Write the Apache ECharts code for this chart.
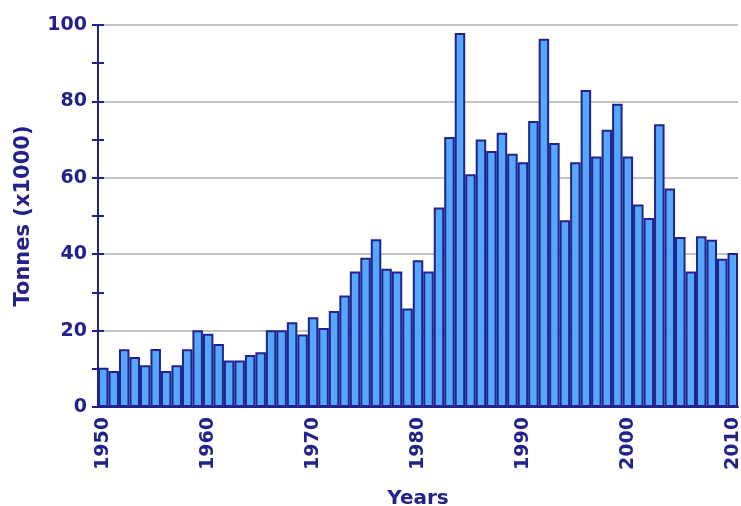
<!DOCTYPE html>
<html>
<head>
<meta charset="utf-8">
<script src="https://cdn.jsdelivr.net/npm/echarts@6/dist/echarts.min.js"></script>
<style>
  html, body { margin: 0; padding: 0; background: #fff; }
  #main { width: 741px; height: 506px; }
</style>
</head>
<body>
<div id="main"></div>
<script>
// data
const firstYear = 1950;
const lastYear = 2010;
const years = [];
for (let y = firstYear; y <= lastYear; y++) years.push(String(y));

const tonnes = [
  10.3, 9.4, 15.1, 13.1, 10.9, 15.2, 9.4, 10.9, 15.1, 20.1,   // 1950-59
  19.2, 16.5, 12.2, 12.2, 13.6, 14.3, 20.1, 20.1, 22.2, 19.0, // 1960-69
  23.5, 20.7, 25.1, 29.2, 35.5, 39.1, 43.9, 36.2, 35.5, 25.8, // 1970-79
  38.4, 35.5, 52.2, 70.7, 97.9, 60.9, 70.0, 67.0, 71.8, 66.3, // 1980-89
  64.1, 74.9, 96.4, 69.1, 48.9, 64.1, 83.0, 65.6, 72.6, 79.4, // 1990-99
  65.6, 53.0, 49.5, 74.0, 57.2, 44.5, 35.5, 44.7, 43.8, 38.8, // 2000-09
  40.3                                                        // 2010
];

const yMin = 0;
const yMax = 100;

const navy = '#22228a';
const fontFamily = '"DejaVu Sans", Verdana, sans-serif';

var chartDom = document.getElementById('main');
var myChart = echarts.init(chartDom);

var option = {
  animation: false,
  backgroundColor: '#ffffff',
  grid: {
    left: 98,
    right: 3,
    top: 25,
    bottom: 99,
    outerBoundsMode: 'none',
    containLabel: false
  },
  xAxis: {
    type: 'category',
    data: years,
    boundaryGap: true,
    name: 'Years',
    nameLocation: 'middle',
    nameGap: 82,
    nameTextStyle: { color: navy, fontSize: 20, fontWeight: 'bold', fontFamily: fontFamily },
    axisLine: { lineStyle: { color: navy, width: 2 } },
    axisTick: {
      alignWithLabel: true,
      interval: function (i) { return i % 5 === 0; },
      length: 8,
      lineStyle: { color: navy, width: 2 }
    },
    axisLabel: {
      interval: function (i) { return i % 10 === 0; },
      rotate: 90,
      margin: 10,
      color: navy,
      fontSize: 19,
      fontWeight: 'bold',
      fontFamily: fontFamily
    },
    splitLine: { show: false }
  },
  yAxis: [
    {
      // main axis with labels and outer ticks
      type: 'value',
      min: yMin,
      max: yMax,
      interval: 10,
      position: 'left',
      name: 'Tonnes (x1000)',
      nameLocation: 'middle',
      nameGap: 64,
      nameRotate: 90,
      nameTextStyle: { color: navy, fontSize: 21, fontWeight: 'bold', fontFamily: fontFamily },
      axisLine: { show: true, lineStyle: { color: navy, width: 2 } },
      axisTick: { show: true, length: 6, lineStyle: { color: navy, width: 2 } },
      axisLabel: {
        color: navy,
        fontSize: 19,
        fontWeight: 'bold',
        fontFamily: fontFamily,
        margin: 11,
        formatter: function (v) { return v % 20 === 0 ? String(v) : ''; }
      },
      splitLine: { show: false }
    },
    {
      // gridlines every 20
      type: 'value',
      min: yMin,
      max: yMax,
      interval: 20,
      position: 'left',
      axisLine: { show: false },
      axisTick: { show: false },
      axisLabel: { show: false },
      splitLine: { show: true, lineStyle: { color: '#c4c4c4', width: 2 } }
    },
    {
      // inner half of the crossing ticks
      type: 'value',
      min: yMin,
      max: yMax,
      interval: 10,
      position: 'left',
      axisLine: { show: false },
      axisTick: { show: true, inside: true, length: 6, lineStyle: { color: navy, width: 2 } },
      axisLabel: { show: false },
      splitLine: { show: false }
    }
  ],
  series: [
    {
      type: 'bar',
      data: tonnes,
      yAxisIndex: 0,
      barCategoryGap: '0%',
      itemStyle: {
        color: '#55a8ff',
        borderColor: navy,
        borderWidth: 2
      }
    }
  ]
};

option && myChart.setOption(option);
</script>
</body>
</html>
